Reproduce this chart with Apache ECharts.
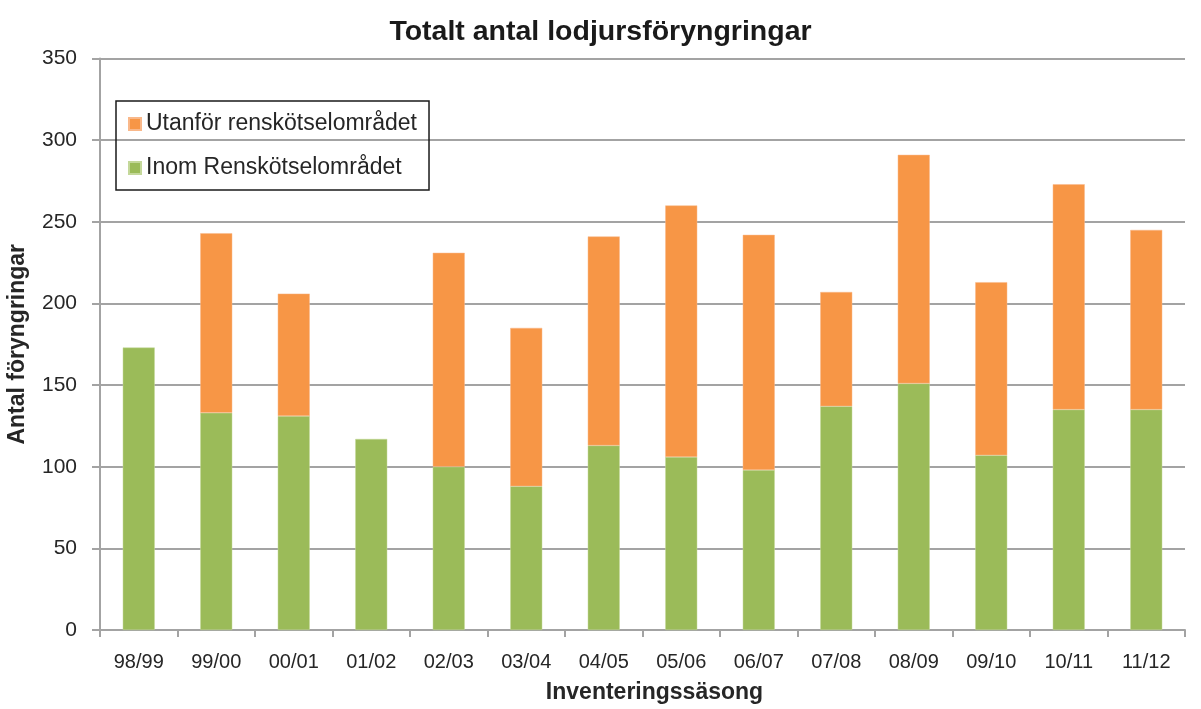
<!DOCTYPE html>
<html>
<head>
<meta charset="utf-8">
<script src="https://cdn.jsdelivr.net/npm/echarts@6/dist/echarts.min.js"></script>
<style>
  html, body { margin: 0; padding: 0; background: #fff; }
  #chart { width: 1201px; height: 709px; }
</style>
</head>
<body>
<div id="chart"></div>
<script>
// seasons on the x axis
const seasons = ['98/99', '99/00', '00/01', '01/02', '02/03', '03/04', '04/05',
  '05/06', '06/07', '07/08', '08/09', '09/10', '10/11', '11/12']
// litters inside the reindeer herding area (bottom part)
const inom = [173, 133, 131, 117, 100, 88, 113, 106, 98, 137, 151, 107, 135, 135]
// litters outside the reindeer herding area (stacked on top), null = none reported
const utanfor = [null, 110, 75, null, 131, 97, 128, 154, 144, 70, 140, 106, 138, 110]
const yTicks = { min: 0, max: 350, interval: 50 }

const font = '"Liberation Sans", Arial, sans-serif'
const axisGray = '#a3a3a3'

const chart = echarts.init(document.getElementById('chart'))
chart.setOption({
  animation: false,
  textStyle: { fontFamily: font },
  title: {
    text: 'Totalt antal lodjursföryngringar',
    left: 'center',
    top: 13,
    textStyle: { fontSize: 28.5, fontWeight: 'bold', color: '#1a1a1a', fontFamily: font }
  },
  legend: {
    orient: 'vertical',
    left: 116,
    top: 101,
    data: ['Utanför renskötselområdet', 'Inom Renskötselområdet'],
    icon: 'rect',
    itemWidth: 12,
    itemHeight: 12,
    itemGap: 18,
    padding: [10, 12, 9, 12],
    borderColor: '#1a1a1a',
    borderWidth: 1.5,
    textStyle: { fontSize: 23, color: '#262626', lineHeight: 26 }
  },
  grid: {
    left: 100,
    right: 16,
    top: 58.5,
    bottom: 79,
    outerBoundsMode: 'none'
  },
  xAxis: {
    type: 'category',
    data: seasons,
    name: 'Inventeringssäsong',
    nameLocation: 'middle',
    nameGap: 51,
    nameTextStyle: { fontSize: 23, fontWeight: 'bold', color: '#262626', padding: [0, 0, 0, 24] },
    axisLine: { lineStyle: { color: axisGray, width: 2 } },
    axisTick: { show: true, length: 7, lineStyle: { color: axisGray, width: 2 } },
    axisLabel: { fontSize: 20, color: '#262626', margin: 22 }
  },
  yAxis: {
    type: 'value',
    min: yTicks.min,
    max: yTicks.max,
    interval: yTicks.interval,
    name: 'Antal föryngringar',
    nameLocation: 'middle',
    nameGap: 71,
    nameTextStyle: { fontSize: 23, fontWeight: 'bold', color: '#262626' },
    axisLine: { show: true, lineStyle: { color: axisGray, width: 2 } },
    axisTick: { show: true, length: 8, lineStyle: { color: axisGray, width: 2 } },
    axisLabel: { fontSize: 21, color: '#262626', margin: 23 },
    splitLine: { lineStyle: { color: axisGray, width: 2 } }
  },
  series: [
    {
      name: 'Inom Renskötselområdet',
      type: 'bar',
      stack: 'total',
      barWidth: 32,
      data: inom,
      itemStyle: { color: '#9bbb59', borderColor: '#c4d89a', borderWidth: 0.5 }
    },
    {
      name: 'Utanför renskötselområdet',
      type: 'bar',
      stack: 'total',
      barWidth: 32,
      data: utanfor,
      itemStyle: { color: '#f79646', borderColor: '#f9b88a', borderWidth: 0.5 }
    }
  ]
})
</script>
</body>
</html>
